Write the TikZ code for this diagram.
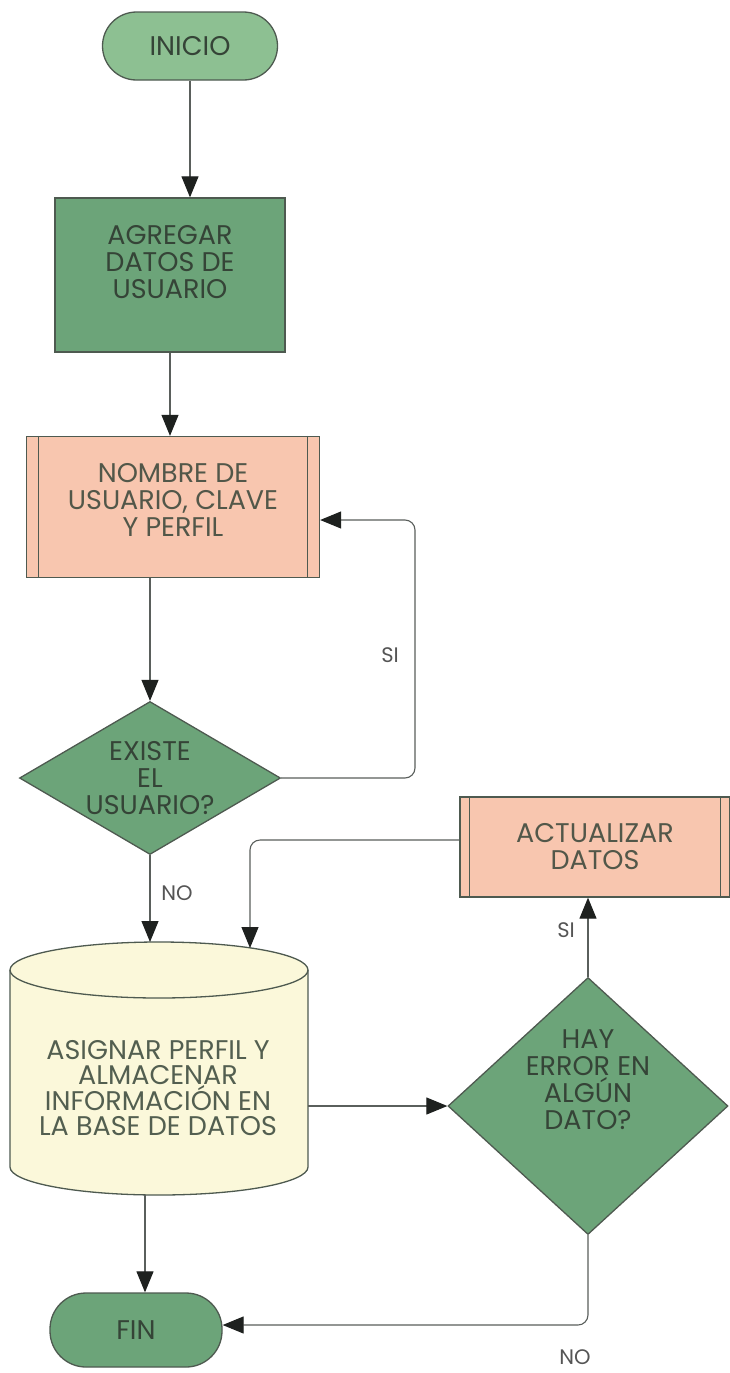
\documentclass[tikz,border=0pt]{standalone}
\usepackage{fontspec}
\setmainfont{Poppins}
\usetikzlibrary{arrows.meta,shapes.geometric,calc}
\definecolor{greenL}{HTML}{8DC092}
\definecolor{greenD}{HTML}{6CA479}
\definecolor{salmon}{HTML}{F8C6AF}
\definecolor{cream}{HTML}{FBF8DA}
\definecolor{bordc}{HTML}{4E5A50}
\definecolor{txtc}{HTML}{354437}
\definecolor{linec}{HTML}{5A5F5C}
\definecolor{lblc}{HTML}{555555}
\definecolor{tipc}{HTML}{1E211F}
\begin{document}
\begin{tikzpicture}[x=1pt,y=-1pt,
  shp/.style={draw=bordc, line width=1.3pt, inner sep=0pt},
  term/.style={shp, rounded corners=34pt},
  txt/.style={font=\fontsize{27}{27}\selectfont, text=txtc, align=center},
  lbl/.style={font=\fontsize{21}{22}\selectfont, text=lblc},
  conn/.style={draw=linec, line width=1.1pt},
  arr/.style={conn, -{Triangle[length=21pt,width=17pt,color=tipc]}}
]
\useasboundingbox (0,0) rectangle (730,1373);
\fill[white] (0,0) rectangle (730,1373);

% Start
\node[term, fill=greenL, minimum width=175pt, minimum height=68pt] (inicio) at (190,46) {};
\node[txt] (inicioT) at (inicio) {INICIO};

% Process
\node[shp, fill=greenD, minimum width=230pt, minimum height=154pt] (agregar) at (170,275) {};
\node[txt] (agregarT) at (170,262) {AGREGAR\\DATOS DE\\USUARIO};

% Predefined process 1
\node[shp, fill=salmon, minimum width=293pt, minimum height=141pt] (nombre) at (173,507) {};
\draw[bordc, line width=1pt] ($(nombre.north west)+(13,0)$) -- ($(nombre.south west)+(13,0)$);
\draw[bordc, line width=1pt] ($(nombre.north east)+(-13,0)$) -- ($(nombre.south east)+(-13,0)$);
\node[txt, text=txtc!85!salmon] (nombreT) at (173,500) {NOMBRE DE\\USUARIO, CLAVE\\Y PERFIL};

% Decision 1
\node[shp, diamond, fill=greenD, minimum width=261pt, minimum height=153pt] (d1) at (150,778) {};
\node[txt] (d1T) at (150,778) {EXISTE\\EL\\USUARIO?};

% Database cylinder
\node[minimum width=298pt, minimum height=255pt, inner sep=0pt] (db) at (159,1068) {};
\fill[cream] (10,970) rectangle (308,1167);
\fill[cream] (159,1167) ellipse [x radius=149, y radius=28];
\fill[cream] (159,970) ellipse [x radius=149, y radius=28];
\draw[bordc, line width=1.3pt] (159,970) ellipse [x radius=149, y radius=28];
\draw[bordc, line width=1.3pt] (10,970) -- (10,1167) arc[start angle=180, end angle=0, x radius=149, y radius=28] -- (308,970);
\node[txt, font=\fontsize{27}{25}\selectfont, text=txtc!85!cream] (dbT) at (158,1088) {ASIGNAR PERFIL Y\\ALMACENAR\\INFORMACIÓN EN\\LA BASE DE DATOS};

% Predefined process 2
\node[shp, fill=salmon, minimum width=270pt, minimum height=100pt] (act) at (595,847) {};
\draw[bordc, line width=1pt] ($(act.north west)+(10,0)$) -- ($(act.south west)+(10,0)$);
\draw[bordc, line width=1pt] ($(act.north east)+(-10,0)$) -- ($(act.south east)+(-10,0)$);
\node[txt, text=txtc!85!salmon] (actT) at (595,847) {ACTUALIZAR\\DATOS};

% Decision 2
\node[shp, diamond, fill=greenD, minimum width=280pt, minimum height=257pt] (d2) at (588,1106) {};
\node[txt] (d2T) at (588,1080) {HAY\\ERROR EN\\ALGÚN\\DATO?};

% End
\node[term, fill=greenD, minimum width=172pt, minimum height=74pt, rounded corners=36pt] (fin) at (136,1330) {};
\node[txt] (finT) at (fin) {FIN};

% coordinates on the cylinder and bends
\coordinate (dbTopNo) at (150,942);
\coordinate (dbTopAct) at (250,948);
\coordinate (dbBot) at (145,1195);
\coordinate (siTurn) at (415,520);
\coordinate (actTurn) at (250,840);
\coordinate (noTurn) at (588,1325);

% connectors
\draw[arr] (inicio.south) -- (inicio.south |- agregar.north);
\draw[arr] (agregar.south) -- (agregar.south |- nombre.north);
\draw[arr] (d1.north |- nombre.south) -- (d1.north);
\draw[arr, rounded corners=10pt] (d1.east) -| (siTurn) -- (siTurn -| nombre.east);
\draw[arr] (d1.south) -- (dbTopNo);
\draw[arr, rounded corners=10pt] (act.west |- actTurn) -- (actTurn) -- (dbTopAct);
\draw[arr] (d2.west -| db.east) -- (d2.west);
\draw[arr] (d2.north) -- (d2.north |- act.south);
\draw[arr, rounded corners=10pt] (d2.south) -- (noTurn) -- (noTurn -| fin.east);
\draw[arr] (dbBot) -- (dbBot |- fin.north);

% labels
\node[lbl] (lsi1) at (390,655) {SI};
\node[lbl] (lno1) at (177,893) {NO};
\node[lbl] (lsi2) at (566,930) {SI};
\node[lbl] (lno2) at (575,1357) {NO};
\end{tikzpicture}
\end{document}
